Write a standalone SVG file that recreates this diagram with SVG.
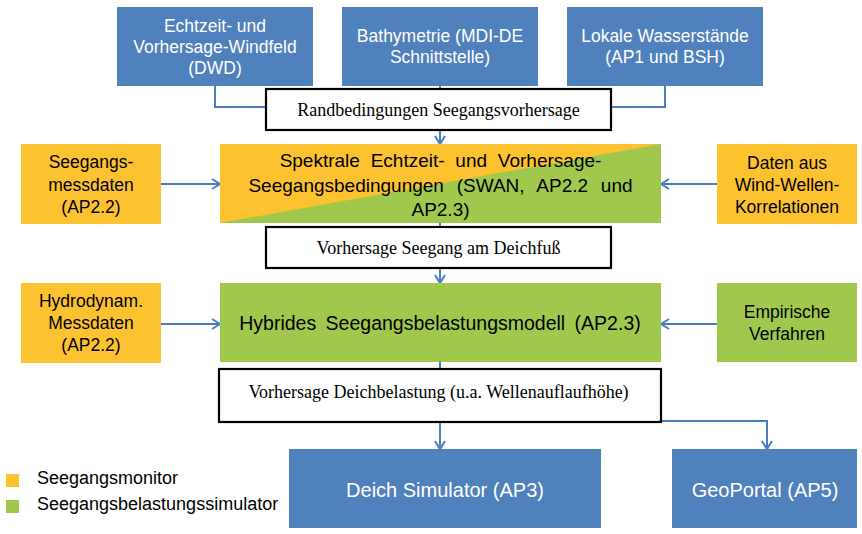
<svg xmlns="http://www.w3.org/2000/svg" width="862" height="534" viewBox="0 0 862 534">
<style>
.blue{fill:#4F81BD}
.yel{fill:#FDC22F}
.grn{fill:#9FC84C}
.lbl{fill:#fff;stroke:#000;stroke-width:2.2}
.ts{font-family:"Liberation Sans",Arial,sans-serif;font-size:17.5px;text-anchor:middle}
.w{fill:#fff}
.k{fill:#000}
.big{font-family:"Liberation Sans",Arial,sans-serif;font-size:19px;text-anchor:middle;fill:#000}
.bot{font-family:"Liberation Sans",Arial,sans-serif;font-size:20px;text-anchor:middle;fill:#fff}
.ser{font-family:"Liberation Serif","Times New Roman",serif;font-size:18px;text-anchor:middle;fill:#000}
.leg{font-family:"Liberation Sans",Arial,sans-serif;font-size:18px;fill:#000}
.con{fill:none;stroke:#4A7EBB;stroke-width:2}
</style>
<defs>
<marker id="arr" markerUnits="userSpaceOnUse" markerWidth="12" markerHeight="12" viewBox="0 0 12 12" refX="10" refY="6" orient="auto">
<path d="M2,1 L10,6 L2,11" fill="none" stroke="#4A7EBB" stroke-width="2"/>
</marker>
</defs>
<g id="connectors">
<path class="con" d="M215,86 V107 H440"/>
<path class="con" d="M665,86 V107 H440"/>
<path class="con" d="M440,86 V144" marker-end="url(#arr)"/>
<path class="con" d="M161,184 H220" marker-end="url(#arr)"/>
<path class="con" d="M717,184 H661" marker-end="url(#arr)"/>
<path class="con" d="M440,223 V283" marker-end="url(#arr)"/>
<path class="con" d="M161,324 H220" marker-end="url(#arr)"/>
<path class="con" d="M717,324 H661" marker-end="url(#arr)"/>
<path class="con" d="M440,362 V449" marker-end="url(#arr)"/>
<path class="con" d="M440,421 H767 V449" marker-end="url(#arr)"/>
</g>
<g id="windfeld">
<rect class="blue" x="117" y="7" width="196" height="79"/>
<text class="ts w"><tspan x="215" y="32">Echtzeit- und</tspan><tspan x="215" y="53">Vorhersage-Windfeld</tspan><tspan x="215" y="74">(DWD)</tspan></text>
</g>
<g id="bathymetrie">
<rect class="blue" x="342" y="7" width="196" height="79"/>
<text class="ts w"><tspan x="440" y="42">Bathymetrie (MDI-DE</tspan><tspan x="440" y="63">Schnittstelle)</tspan></text>
</g>
<g id="wasserstaende">
<rect class="blue" x="567" y="7" width="196" height="79"/>
<text class="ts w"><tspan x="665" y="42">Lokale Wasserstände</tspan><tspan x="665" y="63">(AP1 und BSH)</tspan></text>
</g>
<g id="randbedingungen">
<rect class="lbl" x="266" y="89" width="345" height="41"/>
<text class="ser" x="438.5" y="116">Randbedingungen Seegangsvorhersage</text>
</g>
<g id="seegangsmessdaten">
<rect class="yel" x="21" y="144" width="140" height="80"/>
<text class="ts k"><tspan x="91" y="168">Seegangs-</tspan><tspan x="91" y="191">messdaten</tspan><tspan x="91" y="213">(AP2.2)</tspan></text>
</g>
<g id="spektrale">
<rect class="yel" x="220" y="144" width="441" height="79"/>
<polygon class="grn" points="220,223 661,144 661,223"/>
<text class="big"><tspan x="440.5" y="167" word-spacing="5.5">Spektrale Echtzeit- und Vorhersage-</tspan><tspan x="440.5" y="192" word-spacing="7.5">Seegangsbedingungen (SWAN, AP2.2 und</tspan><tspan x="440.5" y="216">AP2.3)</tspan></text>
</g>
<g id="windwellen">
<rect class="yel" x="717" y="144" width="140" height="80"/>
<text class="ts k"><tspan x="787" y="169">Daten aus</tspan><tspan x="787" y="191">Wind-Wellen-</tspan><tspan x="787" y="213">Korrelationen</tspan></text>
</g>
<g id="deichfuss">
<rect class="lbl" x="266" y="227" width="345" height="41"/>
<text class="ser" x="438.5" y="254">Vorhersage Seegang am Deichfuß</text>
</g>
<g id="hydrodynam">
<rect class="yel" x="21" y="283" width="140" height="80"/>
<text class="ts k"><tspan x="91" y="307">Hydrodynam.</tspan><tspan x="91" y="329">Messdaten</tspan><tspan x="91" y="351">(AP2.2)</tspan></text>
</g>
<g id="hybrides">
<rect class="grn" x="220" y="283" width="441" height="79"/>
<text class="big" x="440" y="330" style="font-size:19.5px" word-spacing="4">Hybrides Seegangsbelastungsmodell (AP2.3)</text>
</g>
<g id="empirische">
<rect class="grn" x="717" y="283" width="140" height="79"/>
<text class="ts k"><tspan x="787" y="318">Empirische</tspan><tspan x="787" y="340">Verfahren</tspan></text>
</g>
<g id="deichbelastung">
<rect class="lbl" x="219" y="369" width="442" height="53"/>
<text class="ser" x="438.5" y="398">Vorhersage Deichbelastung (u.a. Wellenauflaufhöhe)</text>
</g>
<g id="deichsimulator">
<rect class="blue" x="289" y="449" width="312" height="79"/>
<text class="bot" x="445" y="497">Deich Simulator (AP3)</text>
</g>
<g id="geoportal">
<rect class="blue" x="672" y="449" width="185" height="79"/>
<text class="bot" x="765" y="497">GeoPortal (AP5)</text>
</g>
<g id="legend">
<rect class="yel" x="6" y="474" width="13" height="13"/>
<text class="leg" x="37" y="484">Seegangsmonitor</text>
<rect class="grn" x="6" y="500" width="13" height="13"/>
<text class="leg" x="37" y="510">Seegangsbelastungssimulator</text>
</g>
</svg>
